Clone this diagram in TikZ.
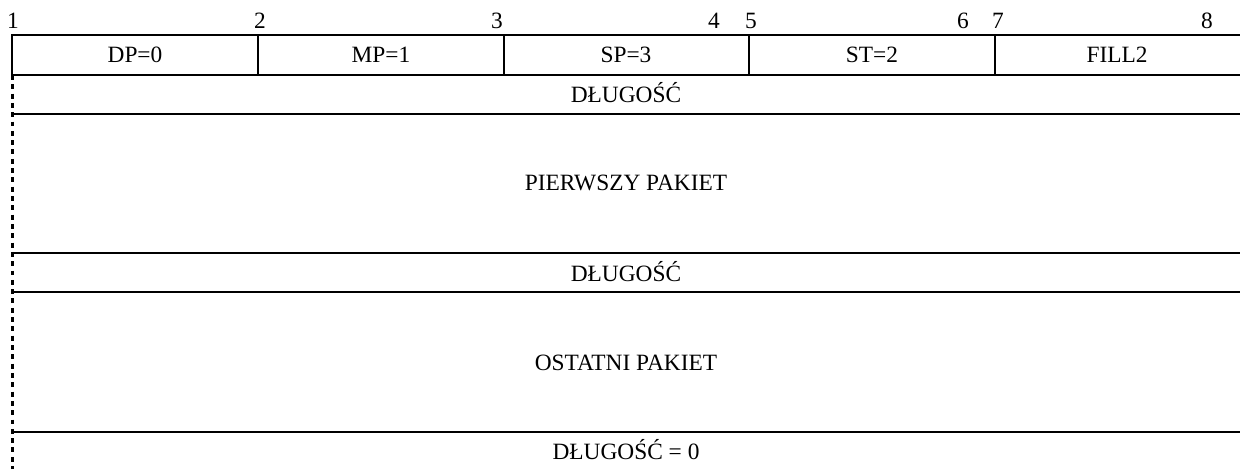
\documentclass[tikz,border=0pt]{standalone}
\usepackage{fontspec}
\setmainfont{Liberation Serif}
\usepackage{tikz}
\usepackage{xcolor}

\begin{document}
\begin{tikzpicture}[x=0.02cm,y=-0.02cm,line width=1.15pt,
  txt/.style={font=\fontsize{13.3}{16}\selectfont,inner sep=0pt,anchor=base}]
\useasboundingbox (0,0) rectangle (1240,469);
% naglowek bajtu
\draw (1240,35) -- (12,35) -- (12,75) -- (1240,75);
\draw (258,35) -- (258,75);
\draw (504,35) -- (504,75);
\draw (749,35) -- (749,75);
\draw (995,35) -- (995,75);
% pola pakietow
\draw (12,114) -- (1240,114);
\draw (12,253) -- (1240,253);
\draw (12,292) -- (1240,292);
\draw (12,432) -- (1240,432);
\draw[line width=1.6pt,dash pattern=on 2.8pt off 2.5pt] (12.5,75) -- (12.5,469);
% numery bitow
\node[txt] (bit1) at (13,29) {1};
\node[txt] (bit2) at (260,29) {2};
\node[txt] (bit3) at (497,29) {3};
\node[txt] (bit4) at (714,29) {4};
\node[txt] (bit5) at (751,29) {5};
\node[txt] (bit6) at (963,29) {6};
\node[txt] (bit7) at (998,29) {7};
\node[txt] (bit8) at (1207,29) {8};
% zawartosc
\node[txt] (dp) at (135,63) {DP=0};
\node[txt] (mp) at (381,63) {MP=1};
\node[txt] (sp) at (626,63) {SP=3};
\node[txt] (st) at (872,63) {ST=2};
\node[txt] (fill) at (1117,63) {FILL2};
\node[txt] (len1) at (626,103) {DŁUGOŚĆ};
\node[txt] (first) at (626,191) {PIERWSZY PAKIET};
\node[txt] (len2) at (626,282) {DŁUGOŚĆ};
\node[txt] (last) at (626,370) {OSTATNI PAKIET};
\node[txt] (len0) at (626,459) {DŁUGOŚĆ = 0};
\end{tikzpicture}
\end{document}
